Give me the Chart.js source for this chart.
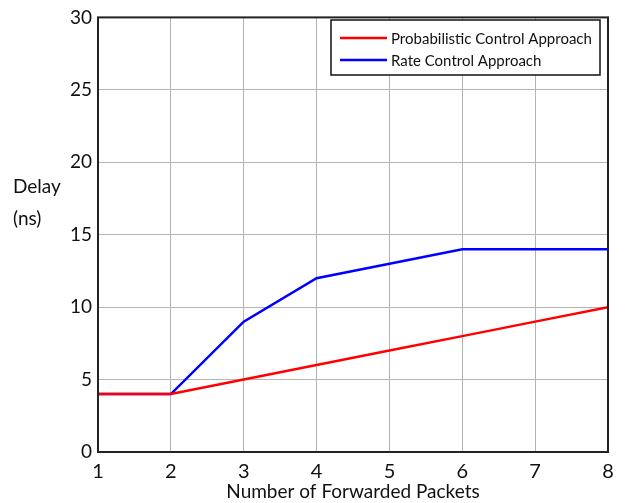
<!DOCTYPE html>
<html><head><meta charset="utf-8">
<script src="https://cdn.jsdelivr.net/npm/chart.js@4"></script>
<style>html,body{margin:0;padding:0;background:#fff}#wrap{width:628px;height:503px}</style>
</head><body><div id="wrap"><canvas id="c" width="628" height="503"></canvas></div>
<script>
const packets = [1, 2, 3, 4, 5, 6, 7, 8];
const probabilistic = [4, 4, 5, 6, 7, 8, 9, 10];
const rateControl = [4, 4, 9, 12, 13, 14, 14, 14];
const seriesNames = ['Probabilistic Control Approach', 'Rate Control Approach'];
const yTitleLines = ['Delay', '(ns)'];
const xTitle = 'Number of Forwarded Packets';
const FONT = 'Lato, "Open Sans", sans-serif';

const framePlugin = {
  id: 'frame',
  afterDraw(chart) {
    const {ctx, chartArea: a} = chart;
    ctx.save();
    ctx.strokeStyle = '#222';
    ctx.lineWidth = 2;
    ctx.strokeRect(a.left, a.top, a.right - a.left, a.bottom - a.top);
    // legend
    const lx = 331, ly = 20, lw = 269, lh = 55;
    ctx.fillStyle = '#fff';
    ctx.fillRect(lx, ly, lw, lh);
    ctx.lineWidth = 1.5;
    ctx.strokeStyle = '#111';
    ctx.strokeRect(lx, ly, lw, lh);
    ctx.font = '15px ' + FONT;
    ctx.textBaseline = 'middle';
    chart.data.datasets.forEach((ds, i) => {
      const y = ly + 18 + i * 22;
      ctx.strokeStyle = ds.borderColor;
      ctx.lineWidth = 2.5;
      ctx.beginPath(); ctx.moveTo(lx + 9, y); ctx.lineTo(lx + 56, y); ctx.stroke();
      ctx.fillStyle = '#111';
      ctx.fillText(ds.label, lx + 60, y + 1);
    });
    // y title
    ctx.font = '19px ' + FONT;
    ctx.fillStyle = '#111';
    ctx.textAlign = 'left';
    ctx.fillText(yTitleLines[0], 13, 187);
    ctx.fillText(yTitleLines[1], 13, 219);
    ctx.restore();
  }
};

new Chart(document.getElementById('c'), {
  type: 'line',
  data: {
    datasets: [
      {label: seriesNames[0], data: packets.map((x, i) => ({x, y: probabilistic[i]})), borderColor: '#ff0000', borderWidth: 2.5, pointRadius: 0, tension: 0, fill: false},
      {label: seriesNames[1], data: packets.map((x, i) => ({x, y: rateControl[i]})), borderColor: '#0000ff', borderWidth: 2.5, pointRadius: 0, tension: 0, fill: false}
    ]
  },
  options: {
    responsive: false,
    animation: false,
    layout: {padding: {left: 0, right: 20, top: 12, bottom: 0}},
    plugins: {legend: {display: false}, tooltip: {enabled: false}},
    scales: {
      x: {
        type: 'linear', min: 1, max: 8,
        ticks: {stepSize: 1, color: '#111', font: {family: FONT, size: 20}, padding: 8},
        grid: {color: '#b4b4b4', lineWidth: 1, drawTicks: false},
        border: {display: false},
        title: {display: true, text: xTitle, color: '#111', font: {family: FONT, size: 19}, padding: {top: 0, bottom: 0}},
        afterFit(s) { s.height = 51; }
      },
      y: {
        min: 0, max: 30,
        ticks: {stepSize: 5, color: '#111', font: {family: FONT, size: 19}, padding: 6},
        grid: {color: '#b4b4b4', lineWidth: 1, drawTicks: false},
        border: {display: false},
        afterFit(s) { s.width = 98; }
      }
    }
  },
  plugins: [framePlugin]
});
</script></body></html>
